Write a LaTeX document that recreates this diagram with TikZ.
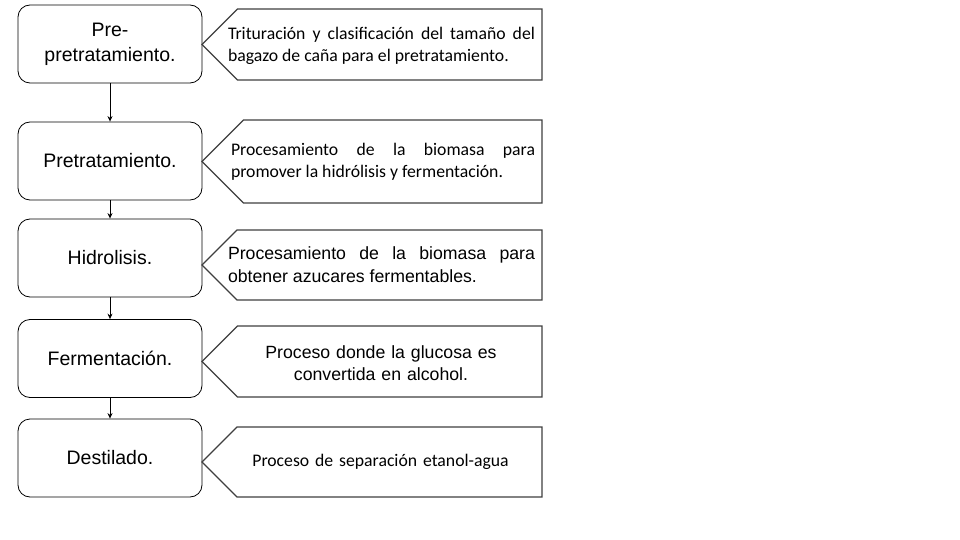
\documentclass[tikz,border=0pt]{standalone}
\usepackage{fontspec}
\setmainfont{Liberation Sans}
\newfontfamily\calfont{Carlito}
\usetikzlibrary{
  arrows.meta
}
\definecolor{flLine}{HTML}{000000}
\definecolor{flNote}{HTML}{3F3F3F}
\newcommand{\stagesize}{\fontsize{19.5}{25}\selectfont}
\newcommand{\notesize}{\fontsize{17.7}{22.5}\selectfont}
\tikzset{
  stage/.style={
    draw=flLine, line width=0.8pt, rounded corners=12pt,
    minimum width=184pt, minimum height=78pt,
    font=\stagesize, align=center
  },
  note/.style={draw=flNote, line width=1.2pt, line join=miter},
  notetext/.style={text width=307pt, align=justify, inner sep=0pt},
  calnote/.style={notetext, font=\calfont\notesize},
  arialnote/.style={notetext, font=\notesize},
  flow/.style={-{Stealth[length=5.5pt, width=5pt]}, line width=1pt, flLine}
}
\begin{document}
\begin{tikzpicture}[x=1pt, y=1pt]
  \useasboundingbox (0,0) rectangle (960,-540);
  % etapas
  \node[stage] (pre) at (110,-44) {Pre-\\pretratamiento.};
  \node[stage] (pret) at (110,-161) {Pretratamiento.};
  \node[stage] (hid) at (110,-258) {Hidrolisis.};
  \node[stage] (fer) at (110,-358.5) {Fermentación.};
  \node[stage] (des) at (110,-458) {Destilado.};
  % descripciones (punta en x=202, cuerpo hasta x=542)
  \foreach \top/\bot in {9/80,120/203,230/300,326/397,427/497}{
    \draw[note] (202,{-(\top+\bot)/2}) -- ({202+(\bot-\top)/2},-\top) -- (542,-\top)
      -- (542,-\bot) -- ({202+(\bot-\top)/2},-\bot) -- cycle;
  }
  \node[calnote] (tpre) at (381.5,-46) {Trituración y clasificación del tamaño del\linebreak bagazo de caña para el pretratamiento.};
  \node[calnote, text width=304pt] (tpret) at (383,-162) {Procesamiento de la biomasa para\linebreak promover la hidrólisis y fermentación.};
  \node[arialnote] (thid) at (381.5,-264.5) {Procesamiento de la biomasa para\linebreak obtener azucares fermentables.};
  \node[arialnote, align=center] (tfer) at (381,-363) {Proceso donde la glucosa es\\convertida en alcohol.};
  \node[calnote, align=center] (tdes) at (380.5,-462) {Proceso de separación etanol-agua};
  \foreach \a/\b in {pre/pret,pret/hid,hid/fer,fer/des}{\draw[flow] (\a) -- (\b);}
\end{tikzpicture}
\end{document}
